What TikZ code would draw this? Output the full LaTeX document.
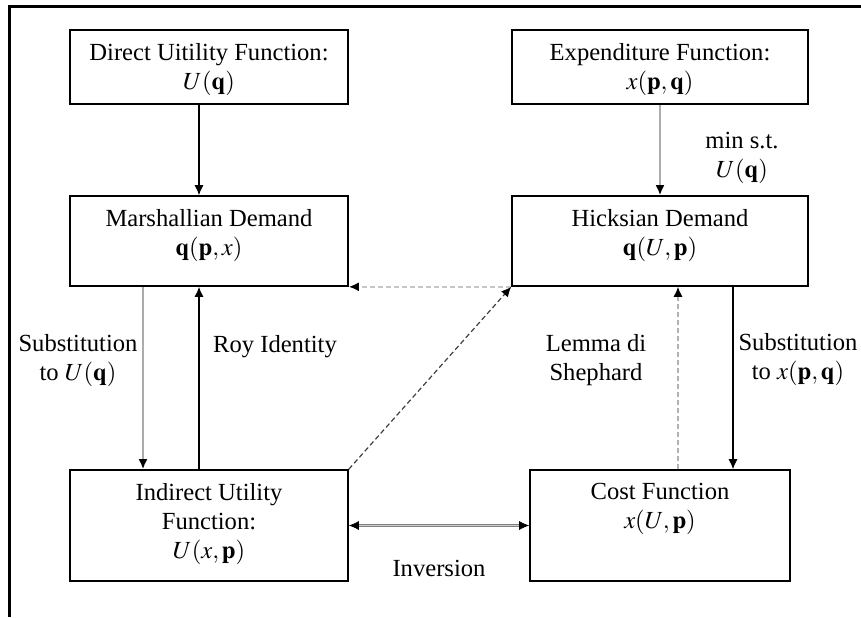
\documentclass[tikz,border=0pt]{standalone}
\usepackage{mathptmx}
\usepackage[no-math]{fontspec}
\setmainfont{Liberation Serif}
\newfontfamily\tnr{Liberation Serif}
\usepackage{amsmath}
\usetikzlibrary{positioning,arrows.meta}

\tikzset{
    box/.style={draw, line width=0.8pt, inner sep=0pt},
    txt/.style={align=center, inner sep=0pt},
    tip/.style={-{Latex[black,length=5pt,width=4.5pt]}},
    tips/.style={{Latex[black,length=5pt,width=4.5pt]}-{Latex[black,length=5pt,width=4.5pt]}},
    gdash/.style={dash pattern=on 2.5pt off 1.5pt}
}

\begin{document}
\begin{tikzpicture}[x=0.5pt, y=-0.5pt, font=\tnr\fontsize{12.3}{14.5}\selectfont]
    \useasboundingbox (0,0) rectangle (861,617);
    \draw[line width=1.5pt] (9,617) -- (9,6) -- (861,6);

    \node[box, minimum width=139pt, minimum height=37pt] at (209,67) (dir) {};
    \node[box, minimum width=139pt, minimum height=45pt] at (209,241) (mar) {};
    \node[box, minimum width=139pt, minimum height=55.5pt] at (209,525.5) (ind) {};
    \node[box, minimum width=148pt, minimum height=37pt] at (660,67) (exp) {};
    \node[box, minimum width=148pt, minimum height=45pt] at (660,241) (hic) {};
    \node[box, minimum width=130pt, minimum height=55.5pt] at (660,525.5) (cost) {};

    \node[txt, below=7pt of dir.north] (dirtxt) {Direct Uitility Function:\\$U(\mathbf{q})$};
    \node[txt, below=7pt of mar.north] (martxt) {Marshallian Demand\\$\mathbf{q}(\mathbf{p},x)$};
    \node[txt, below=7pt of ind.north] (indtxt) {Indirect Utility\\Function:\\$U(x,\mathbf{p})$};
    \node[txt, below=7pt of exp.north] (exptxt) {Expenditure Function:\\$x(\mathbf{p},\mathbf{q})$};
    \node[txt, below=7pt of hic.north] (hictxt) {Hicksian Demand\\$\mathbf{q}(U,\mathbf{p})$};
    \node[txt, below=7pt of cost.north] (costtxt) {Cost Function\\$x(U,\mathbf{p})$};

    \draw[tip, line width=0.6pt] ([xshift=-5pt]dir.south) -- ([xshift=-5pt]mar.north);
    \draw[tip, line width=1pt, gray!65] (exp.south) -- (hic.north);
    \draw[tip, line width=1pt, gray!65] ([xshift=-33pt]mar.south) -- ([xshift=-33pt]ind.north);
    \draw[tip, line width=0.6pt] ([xshift=-5pt]ind.north) -- ([xshift=-5pt]mar.south);
    \draw[tip, line width=0.6pt] ([xshift=36.5pt]hic.south) -- ([xshift=36.5pt]cost.north);
    \draw[tip, gdash, line width=0.9pt, gray!45] (hic.south west) -- (mar.south east);
    \draw[tip, gdash, line width=0.6pt, gray!50!black] (ind.north east) -- (hic.south west);
    \draw[tip, gdash, line width=0.6pt, gray!60] ([xshift=9pt]cost.north) -- ([xshift=9pt]hic.south);
    \draw[tips, line width=0.4pt, draw=gray, double=gray!40, double distance=0.6pt] (ind.east) -- (cost.west);

    \node[txt] at (742,158) (minst) {min s.t.\\$U(\mathbf{q})$};
    \node[txt] at (78,361) (subu) {Substitution\\to $U(\mathbf{q})$};
    \node[txt] at (275,347) (roy) {Roy Identity};
    \node[txt] at (596,360) (lemma) {Lemma di\\Shephard};
    \node[txt] at (798,360) (subx) {Substitution\\to\ $x(\mathbf{p},\mathbf{q})$};
    \node[txt] at (439,568) (inv) {Inversion};
\end{tikzpicture}
\end{document}
